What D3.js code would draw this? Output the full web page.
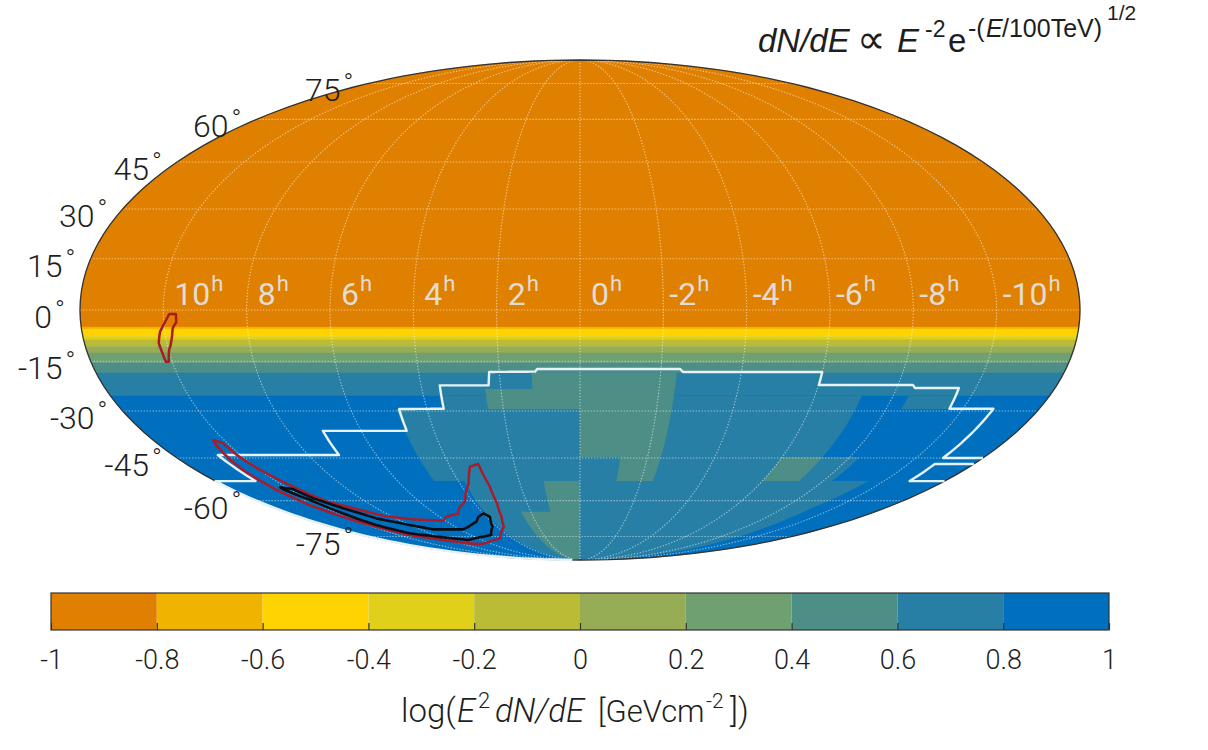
<!DOCTYPE html>
<html>
<head>
<meta charset="utf-8">
<script src="https://cdn.jsdelivr.net/npm/d3@7/dist/d3.min.js"></script>
<style>
html,body{margin:0;padding:0;background:#fff}
svg{display:block}
text{font-family:Roboto,"Liberation Sans",sans-serif;font-weight:300;fill:#1e1e1e}
</style>
</head>
<body>
<svg id="c" width="1208" height="750"></svg>
<script>
// ---- data (RA in hours, Dec in degrees, levels index the colour classes) ----
const levelValues = [-1,-0.8,-0.6,-0.4,-0.2,0,0.2,0.4,0.6,0.8,1];
const levelColors = ["#E08000","#F0B400","#FFD300","#E0D019","#BBBC36","#96AC55","#6EA072","#4D8E86","#277FA6","#0070BE"];
// southern limit of each declination band, north to south (level = position)
const bandLimits = [-4.96,-5.55,-7.74,-8.62,-10.67,-12.6,-15.5,-18.5,-25.4,-90];
// sky cells that differ from the declination band
const cellsBlue = [[[3.6,-25.4],[3.6,-29.4],[4.8,-29.4],[4.8,-52.9],[3.8,-52.9],[3.9,-64],[3.9,-75],[3.9,-90],[-9,-90],[-9,-75],[-9.1,-64],[-9.5,-52.9],[-8.3,-52.9],[-8.3,-44.7],[-7.2,-44.7],[-7.2,-25.4]],
                   [[-8.4,-25.4],[-9.6,-25.4],[-9.6,-29.4],[-8.4,-29.4]]];
const cellsTeal = [[[1.2,-18.5],[1.2,-23.3],[2.4,-23.3],[2.4,-29.4],[0,-29.4],[0,-44.7],[-1.2,-44.7],[-1.2,-52.9],[-2.4,-52.9],[-2.4,-18.5]],
                   [[-6,-44.7],[-7.2,-44.7],[-7.2,-52.9],[-6,-52.9]],
                   [[1.2,-52.9],[1.2,-64.3],[2.4,-64.3],[2.4,-90],[0,-90],[0,-52.9]]];
// exposure boundary
const whiteMain = [[12,-89.9],[12,-52.9],[10.68,-52.9],[10.67,-44],[7.1,-44],[7.05,-36.2],[4.75,-36.2],[4.73,-29.4],[3.56,-29.3],[3.53,-22.2],[2.3,-22.2],[2.25,-18.2],[1.11,-18.1],[1.06,-17.3],[-2.47,-17.3],[-2.55,-18.2],[-6,-18.2],[-6.01,-22.1],[-8.38,-22.1],[-8.46,-23],[-9.57,-23],[-9.65,-29.3],[-10.8,-29.3],[-10.81,-45],[-12,-45]];
const whiteSmall = [[-12,-47],[-10.81,-47],[-10.85,-52.9],[-12,-52.9]];
// source contours
const redSmall = [[9.86,-1.2],[9.7,-1.2],[9.7,-3.5],[9.8,-5.26],[9.85,-7.9],[9.92,-10.2],[9.99,-11.7],[10.09,-15.2],[10.16,-15.2],[10.17,-13.2],[10.2,-9.65],[10.12,-6.4],[9.97,-3.5]];
const redBig = [[10.3,-39.1],[10.12,-40.2],[10.11,-44.05],[9.99,-49],[9.74,-54.9],[9.46,-60.4],[8.8,-63.6],[8.28,-66.1],[7.33,-67.4],[6.1,-68],[5.73,-66.4],[5.03,-65],[4.76,-62.9],[4.3,-60.4],[3.98,-56.7],[3.71,-53.7],[3.39,-47.9],[3.1,-47],[3.09,-49.6],[3.06,-54.9],[3.14,-61.1],[3.35,-66.4],[3.67,-70.6],[4.69,-75.9],[5.76,-77.5],[6.67,-78.8],[7.6,-78.3],[8.37,-76.7],[9.41,-74.3],[9.82,-70.6],[10.13,-66.4],[10.37,-61.7],[10.49,-56.1],[10.52,-49],[10.44,-43.5],[10.36,-40.2]];
const blackBig = [[10.21,-55.1],[9.87,-55.8],[9.73,-59.2],[9.33,-62.9],[8.84,-67],[8.02,-69.8],[7.33,-71.7],[5.83,-71.7],[5.39,-70.6],[4.67,-68.4],[4.35,-66.4],[3.99,-65],[3.85,-66.4],[4.22,-70.6],[4.89,-74.3],[5.8,-75.4],[6.84,-76.7],[7.92,-75.4],[9.11,-73.5],[9.59,-69.8],[9.78,-65],[9.97,-59.8],[10.22,-55.8]];
// axes
const raTicks = [10,8,6,4,2,0,-2,-4,-6,-8,-10];
const decTicks = [75,60,45,30,15,0,-15,-30,-45,-60,-75];
const barTicks = [-1,-0.8,-0.6,-0.4,-0.2,0,0.2,0.4,0.6,0.8,1];

// ---- projection ----
function mollweideRaw(lam, phi){
  const cp = Math.PI*Math.sin(phi);
  let t = phi, d, i = 40;
  do { d = (t + Math.sin(t) - cp)/(1 + Math.cos(t)); t -= d; } while (Math.abs(d) > 1e-7 && --i > 0);
  t /= 2;
  return [2*Math.SQRT2/Math.PI*lam*Math.cos(t), Math.SQRT2*Math.sin(t)];
}
const projection = d3.geoProjection(mollweideRaw).scale(250/Math.SQRT2).translate([580,310]).precision(0.1);
const sky = ([ra,dec]) => projection([-ra*15, Math.max(-89.95,Math.min(89.95,dec))]);
function densify(pts, closed){
  const out = [], n = pts.length, m = closed ? n : n-1;
  for (let i=0;i<m;i++){
    const a = pts[i], b = pts[(i+1)%n];
    const k = Math.max(1, Math.ceil(Math.max(Math.abs(a[0]-b[0])*15, Math.abs(a[1]-b[1]))));
    for (let j=0;j<k;j++) out.push([a[0]+(b[0]-a[0])*j/k, a[1]+(b[1]-a[1])*j/k]);
  }
  if (!closed) out.push(pts[n-1]);
  return out;
}
const line = d3.line();
const polyPath = pts => line(densify(pts,true).map(sky)) + "Z";
const openPath = pts => line(densify(pts,false).map(sky));

const svg = d3.select("#c");
const map = svg.append("g");
const geo = d3.geoPath(projection);

// declination bands
const bands = bandLimits.map((lim,i)=>{
  const north = i===0 ? 90 : bandLimits[i-1];
  return {level:i, poly:[[12,north],[-12,north],[-12,lim],[12,lim]]};
});
map.selectAll("path.band").data(bands).join("path").attr("class","band")
   .attr("d",d=>polyPath(d.poly)).attr("fill",d=>levelColors[d.level])
   .attr("stroke",d=>levelColors[d.level]).attr("stroke-width",0.4);
map.selectAll("path.blue").data(cellsBlue).join("path").attr("class","blue")
   .attr("d",polyPath).attr("fill",levelColors[8]);
map.selectAll("path.teal").data(cellsTeal).join("path").attr("class","teal")
   .attr("d",polyPath).attr("fill",levelColors[7]);

// graticule
const gridStyle = s => s.attr("fill","none").attr("stroke","#fff").attr("stroke-opacity",0.55)
    .attr("stroke-width",1.1).attr("stroke-dasharray","1.3 1.7");
map.selectAll("path.mer").data([0].concat(raTicks.filter(d=>d!==0))).join("path").attr("class","mer")
   .attr("d",ra=>openPath([[ra,89.9],[ra,-89.9]])).call(gridStyle);
map.selectAll("path.par").data(decTicks).join("path").attr("class","par")
   .attr("d",dec=>openPath([[12,dec],[-12,dec]])).call(gridStyle);

// outline
map.append("path").datum({type:"Sphere"}).attr("d",geo).attr("fill","none").attr("stroke","#333").attr("stroke-width",1.3);

// contours
const contour = (data,color,w)=>map.append("path").attr("d",data).attr("fill","none").attr("stroke",color)
    .attr("stroke-width",w).attr("stroke-linejoin","round");
contour(openPath(whiteMain),"#e6f2f6",2.4);
contour(openPath(whiteSmall),"#e6f2f6",2.4);
contour(polyPath(redSmall),"#a81c1e",2.5);
contour(polyPath(redBig),"#a81c2c",2.5);
contour(polyPath(blackBig),"#0d0d14",2.6);

// RA labels
const raText = svg.selectAll("text.ra").data(raTicks).join("text").attr("class","ra")
   .attr("x",d=>sky([d,0])[0] + (d>=0 ? 11 : 6)).attr("y",305)
   .style("font-size","32px").style("font-weight",400).style("fill","#e3dcd2");
raText.append("tspan").text(d=>d);
raText.append("tspan").text("h").attr("dy",-14).attr("dx",1).style("font-size","22px").style("fill","#e3dcd2");

// Dec labels
const decText = svg.selectAll("text.dec").data(decTicks).join("text").attr("class","dec")
   .attr("text-anchor","start")
   .style("font-size","32px");
decText.append("tspan").text(d=>d);
decText.append("tspan").text("°").attr("dy",-9).attr("dx",3).style("font-size","26px");
decText.each(function(d){
  const w = this.firstChild.getComputedTextLength();
  const p = sky([12,d]);
  d3.select(this).attr("x",p[0]-28-w).attr("y",p[1]+18);
});

// colour bar
const barX = d3.scaleLinear().domain([-1,1]).range([51,1109]);
const barTop = 593, barBottom = 630;
const bar = svg.append("g");
bar.selectAll("rect").data(levelColors).join("rect")
   .attr("x",(d,i)=>barX(levelValues[i])).attr("width",(d,i)=>barX(levelValues[i+1])-barX(levelValues[i]))
   .attr("y",barTop).attr("height",barBottom-barTop).attr("fill",d=>d);
bar.append("rect").attr("x",barX(-1)).attr("y",barTop).attr("width",barX(1)-barX(-1)).attr("height",barBottom-barTop)
   .attr("fill","none").attr("stroke","#333").attr("stroke-width",1.2);
const axis = svg.append("g").attr("transform",`translate(0,${barBottom})`)
   .call(d3.axisBottom(barX).tickValues(barTicks).tickSize(-7).tickFormat(d=>String(d)));
axis.select(".domain").remove();
axis.selectAll("line").attr("stroke","#333").attr("stroke-width",1.2);
axis.selectAll("text").attr("y",39).attr("dy",0).attr("fill",null).style("font-size","27px").style("font-family","Roboto").style("font-weight",300);
axis.attr("font-family",null).attr("font-size",null);

// colour bar title
const cap = svg.append("text").attr("y",722).style("font-size","33px");
const capPart = (t,x,o={})=>{const s=cap.append("tspan").text(t).attr("x",x).attr("y",722-(o.up||0));
  if(o.i) s.style("font-style","italic"); if(o.fs) s.style("font-size",o.fs+"px"); return s;};
capPart("log(",401);capPart("E",457,{i:1,fs:33});capPart("2",478,{up:14,fs:22});capPart("dN/dE",495,{i:1,fs:33});
capPart("[GeVcm",598,{fs:31});capPart("-2",706,{up:14,fs:21});capPart("])",730,{fs:33});

// formula
const f = svg.append("text");
const fp = (t,x,y,fs,it)=>{const s=f.append("tspan").text(t).attr("x",x).attr("y",y).style("font-size",fs+"px")
   .style("font-family",'"Liberation Sans",sans-serif').style("font-weight",400);
  if(it) s.style("font-style","italic"); return s;};
fp("dN/dE",758,52,33,true);
fp("∝",857,53,40,false);
fp("E",897,52,33,true);
fp("-2",925,37,23,false);
fp("e",948,52,33,false);
fp("-(",968,37,25,false);
fp("E",986,37,25,true);
fp("/100TeV)",1002,37,25,false);
fp("1/2",1107,20,21,false);
</script>
</body>
</html>
